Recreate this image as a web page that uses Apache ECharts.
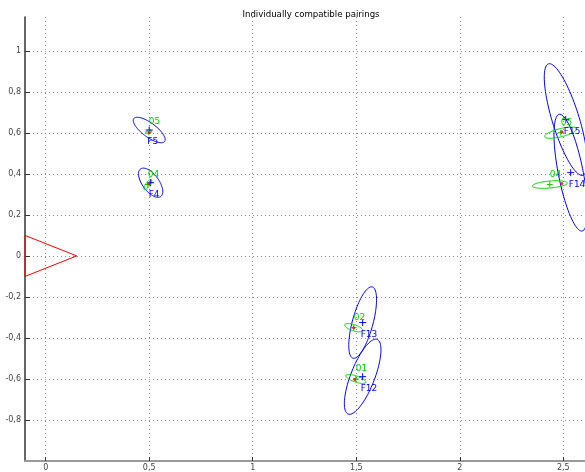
<!DOCTYPE html>
<html>
<head>
<meta charset="utf-8">
<script src="https://cdn.jsdelivr.net/npm/echarts@6/dist/echarts.min.js"></script>
<style>
  html, body { margin: 0; padding: 0; background: #fff; }
  #chart { width: 585px; height: 472px; }
</style>
</head>
<body>
<div id="chart"></div>
<script>
// Axis tick positions
const xTicks = [0, 0.5, 1, 1.5, 2, 2.5];
const yTicks = [-0.8, -0.6, -0.4, -0.2, 0, 0.2, 0.4, 0.6, 0.8, 1];

// Robot pose outline (closed triangle)
const robotX = [-0.1, 0.15, -0.1, -0.1];
const robotY = [0.1, 0, -0.1, 0.1];

// Map features: mean and covariance ellipse (semi-axes, orientation in degrees)
const featNames = ['F5', 'F4', 'F13', 'F12', 'F15', 'F14'];
const featX = [0.5, 0.507, 1.531, 1.531, 2.512, 2.536];
const featY = [0.614, 0.357, -0.325, -0.589, 0.665, 0.406];
const featSemiMajor = [0.093, 0.083, 0.18, 0.195, 0.284, 0.29];
const featSemiMinor = [0.034, 0.04, 0.05, 0.058, 0.065, 0.06];
const featAngle = [-37, -54, 75, 69, 107, 101];

// Observations: mean and covariance ellipse
const obsNames = ['05', '04', '02', '01', '05', '04'];
const obsX = [0.498, 0.493, 1.488, 1.498, 2.488, 2.435];
const obsY = [0.605, 0.348, -0.35, -0.6, 0.601, 0.348];
const obsSemiMajor = [0.015, 0.03, 0.046, 0.051, 0.08, 0.085];
const obsSemiMinor = [0.008, 0.01, 0.015, 0.015, 0.02, 0.017];
const obsAngle = [20, 55, -18, -19, 14, 5];

// Paired points
const pairX = [0.5, 0.498, 1.488, 1.493, 2.493, 2.493];
const pairY = [0.6, 0.352, -0.35, -0.603, 0.606, 0.353];

const BLUE = '#0000ff';
const GREEN = '#00d000';
const RED = '#ff0000';
const FONT = 'DejaVu Sans';

const fmt = v => String(Math.round(v * 10) / 10).replace('.', ',');

function ellipseSeries(xs, ys, as, bs, angs, color) {
  return {
    type: 'custom',
    clip: true,
    silent: true,
    data: xs.map((x, i) => [x, ys[i], as[i], bs[i], angs[i]]),
    encode: { x: 0, y: 1 },
    renderItem: (params, api) => {
      const cx = api.value(0), cy = api.value(1);
      const a = api.value(2), b = api.value(3);
      const phi = api.value(4) * Math.PI / 180;
      const pts = [];
      const N = 90;
      for (let k = 0; k <= N; k++) {
        const t = 2 * Math.PI * k / N;
        const dx = a * Math.cos(t), dy = b * Math.sin(t);
        pts.push(api.coord([
          cx + dx * Math.cos(phi) - dy * Math.sin(phi),
          cy + dx * Math.sin(phi) + dy * Math.cos(phi)
        ]));
      }
      return {
        type: 'polyline',
        shape: { points: pts },
        style: { stroke: color, fill: null, lineWidth: 1 }
      };
    }
  };
}

function plusSeries(xs, ys, color, half) {
  return {
    type: 'custom',
    silent: true,
    data: xs.map((x, i) => [x, ys[i]]),
    encode: { x: 0, y: 1 },
    renderItem: (params, api) => {
      const p = api.coord([api.value(0), api.value(1)]);
      return {
        type: 'group',
        children: [
          { type: 'line', shape: { x1: p[0] - half, y1: p[1], x2: p[0] + half, y2: p[1] },
            style: { stroke: color, lineWidth: 1 } },
          { type: 'line', shape: { x1: p[0], y1: p[1] - half, x2: p[0], y2: p[1] + half },
            style: { stroke: color, lineWidth: 1 } }
        ]
      };
    }
  };
}

function labelSeries(xs, ys, names, color, dx, dy) {
  return {
    type: 'custom',
    silent: true,
    data: xs.map((x, i) => [x, ys[i], i]),
    encode: { x: 0, y: 1 },
    renderItem: (params, api) => {
      const p = api.coord([api.value(0), api.value(1)]);
      return {
        type: 'text',
        x: p[0] + dx,
        y: p[1] + dy,
        style: {
          text: names[api.value(2)],
          fill: color,
          font: '9px "' + FONT + '"',
          textAlign: 'left',
          textVerticalAlign: 'middle'
        }
      };
    }
  };
}

const chart = echarts.init(document.getElementById('chart'), null, { renderer: 'canvas' });

chart.setOption({
  animation: false,
  backgroundColor: '#fff',
  title: {
    text: 'Individually compatible pairings',
    left: 306,
    top: 5,
    textAlign: 'center',
    textStyle: { fontFamily: FONT, fontSize: 8.6, fontWeight: 'normal', color: '#000' }
  },
  grid: { left: 25, right: 0, top: 17, bottom: 9 },
  xAxis: {
    type: 'value',
    min: -0.1,
    max: 2.605,
    axisLine: { show: true, onZero: false, lineStyle: { color: '#999', width: 2 } },
    axisTick: { show: true, inside: true, length: 4, customValues: xTicks, lineStyle: { color: '#333' } },
    axisLabel: { customValues: xTicks, formatter: fmt, fontFamily: FONT, fontSize: 8, color: '#444', margin: 3 },
    splitLine: { show: true, lineStyle: { color: '#888', type: [1, 3], width: 1 } }
  },
  yAxis: {
    type: 'value',
    min: -1,
    max: 1.165,
    axisLine: { show: true, onZero: false, lineStyle: { color: '#333', width: 1.5 } },
    axisTick: { show: true, inside: true, length: 5, customValues: yTicks, lineStyle: { color: '#333' } },
    axisLabel: { customValues: yTicks, formatter: fmt, fontFamily: FONT, fontSize: 8, color: '#444', margin: 4 },
    splitLine: { show: true, lineStyle: { color: '#888', type: [1, 3], width: 1 } }
  },
  series: [
    {
      type: 'line',
      data: robotX.map((x, i) => [x, robotY[i]]),
      symbol: 'none',
      lineStyle: { color: RED, width: 1 },
      silent: true,
      clip: false
    },
    ellipseSeries(featX, featY, featSemiMajor, featSemiMinor, featAngle, BLUE),
    ellipseSeries(obsX, obsY, obsSemiMajor, obsSemiMinor, obsAngle, GREEN),
    plusSeries(featX, featY, BLUE, 3.5),
    plusSeries(obsX, obsY, GREEN, 3),
    {
      type: 'scatter',
      data: pairX.map((x, i) => [x, pairY[i]]),
      symbol: 'circle',
      symbolSize: 3,
      itemStyle: { color: RED },
      silent: true
    },
    labelSeries(featX, featY, featNames, BLUE, -2, 12),
    labelSeries(obsX, obsY, obsNames, GREEN, 0, -10)
  ]
});
</script>
</body>
</html>
